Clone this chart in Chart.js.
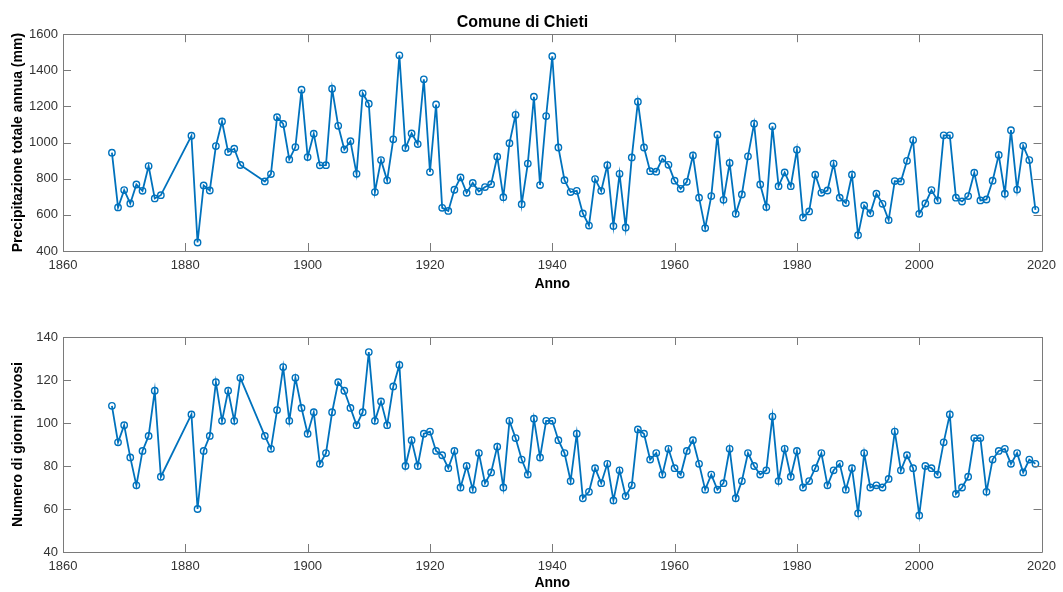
<!DOCTYPE html>
<html>
<head>
<meta charset="utf-8">
<script src="https://cdn.jsdelivr.net/npm/chart.js@4.4.0/dist/chart.umd.min.js"></script>
<style>
  body { margin: 0; background: #fff; }
  #wrap { position: relative; width: 1063px; height: 592px; }
  canvas { position: absolute; left: 0; }
</style>
</head>
<body>
<div id="wrap">
  <canvas id="rain" width="1063" height="296" style="top:0"></canvas>
  <canvas id="days" width="1063" height="296" style="top:296px"></canvas>
</div>
<script>
// years with data (gaps 1877-1880 and 1890-1892)
const years = [
  1868, 1869, 1870, 1871, 1872, 1873, 1874, 1875, 1876,
  1881, 1882, 1883, 1884, 1885, 1886, 1887, 1888, 1889,
  1893, 1894, 1895, 1896, 1897, 1898, 1899, 1900,
  1901, 1902, 1903, 1904, 1905, 1906, 1907, 1908, 1909, 1910,
  1911, 1912, 1913, 1914, 1915, 1916, 1917, 1918, 1919, 1920,
  1921, 1922, 1923, 1924, 1925, 1926, 1927, 1928, 1929, 1930,
  1931, 1932, 1933, 1934, 1935, 1936, 1937, 1938, 1939, 1940,
  1941, 1942, 1943, 1944, 1945, 1946, 1947, 1948, 1949, 1950,
  1951, 1952, 1953, 1954, 1955, 1956, 1957, 1958, 1959, 1960,
  1961, 1962, 1963, 1964, 1965, 1966, 1967, 1968, 1969, 1970,
  1971, 1972, 1973, 1974, 1975, 1976, 1977, 1978, 1979, 1980,
  1981, 1982, 1983, 1984, 1985, 1986, 1987, 1988, 1989, 1990,
  1991, 1992, 1993, 1994, 1995, 1996, 1997, 1998, 1999, 2000,
  2001, 2002, 2003, 2004, 2005, 2006, 2007, 2008, 2009, 2010,
  2011, 2012, 2013, 2014, 2015, 2016, 2017, 2018, 2019
];

// precipitazione totale annua (mm)
const rainfall = [
  944, 641, 737, 663, 768, 733, 870, 691, 709,
  1038, 447, 763, 735, 981, 1117, 948, 966, 876,
  785, 826, 1141, 1103, 907, 975, 1293, 920,
  1049, 874, 875, 1298, 1093, 962, 1008, 827, 1273, 1215,
  726, 903, 791, 1018, 1483, 970, 1051, 992, 1350, 837,
  1211, 639, 622, 739, 807, 722, 777, 730, 754, 770,
  922, 698, 997, 1154, 659, 884, 1254, 765, 1147, 1478,
  973, 792, 726, 733, 608, 541, 798, 733, 875, 538,
  827, 530, 918, 1226, 973, 842, 839, 911, 877, 789,
  744, 783, 929, 695, 527, 704, 1044, 683, 887, 606,
  713, 924, 1105, 768, 643, 1090, 759, 835, 759, 960,
  586, 619, 822, 722, 735, 884, 695, 665, 822, 488,
  652, 609, 717, 661, 571, 787, 785, 899, 1014, 606,
  663, 737, 680, 1040, 1040, 695, 674, 704, 833, 680,
  685, 789, 932, 717, 1069, 740, 982, 903, 628
];

// numero di giorni piovosi
const rainyDays = [
  108, 91, 99, 84, 71, 87, 94, 115, 75,
  104, 60, 87, 94, 119, 101, 115, 101, 121,
  94, 88, 106, 126, 101, 121, 107, 95,
  105, 81, 86, 105, 119, 115, 107, 99, 105, 133,
  101, 110, 99, 117, 127, 80, 92, 80, 95, 96,
  87, 85, 79, 87, 70, 80, 69, 86, 72, 77,
  89, 70, 101, 93, 83, 76, 102, 84, 101, 101,
  92, 86, 73, 95, 65, 68, 79, 72, 81, 64,
  78, 66, 71, 97, 95, 83, 86, 76, 88, 79,
  76, 87, 92, 81, 69, 76, 69, 72, 88, 65,
  73, 86, 80, 76, 78, 103, 73, 88, 75, 87,
  70, 73, 79, 86, 71, 78, 81, 69, 79, 58,
  86, 70, 71, 70, 74, 96, 78, 85, 79, 57,
  80, 79, 76, 91, 104, 67, 70, 75, 93, 93,
  68, 83, 87, 88, 81, 86, 77, 83, 81
];

const yearTicks = [1860, 1880, 1900, 1920, 1940, 1960, 1980, 2000, 2020];
const rainTicks = [400, 600, 800, 1000, 1200, 1400, 1600];
const dayTicks = [40, 60, 80, 100, 120, 140];

const blue = '#0072BD';
const textColor = '#333333';
const boxColor = '#7a7a7a';
const fontFamily = '"Liberation Sans", Arial, Helvetica, sans-serif';

// matlab-like box with inward ticks on all four sides
const boxPlugin = {
  id: 'matlabBox',
  afterDraw(chart) {
    const { ctx, chartArea: a, scales } = chart;
    const len = 8;
    ctx.save();
    ctx.strokeStyle = boxColor;
    ctx.lineWidth = 1;
    ctx.beginPath();
    ctx.rect(Math.round(a.left) + 0.5, Math.round(a.top) + 0.5,
      Math.round(a.right - a.left), Math.round(a.bottom - a.top));
    scales.x.ticks.forEach(t => {
      const px = Math.round(scales.x.getPixelForValue(t.value)) + 0.5;
      ctx.moveTo(px, a.bottom); ctx.lineTo(px, a.bottom - len);
      ctx.moveTo(px, a.top); ctx.lineTo(px, a.top + len);
    });
    scales.y.ticks.forEach(t => {
      const py = Math.round(scales.y.getPixelForValue(t.value)) + 0.5;
      ctx.moveTo(a.left, py); ctx.lineTo(a.left + len, py);
      ctx.moveTo(a.right, py); ctx.lineTo(a.right - len, py);
    });
    ctx.stroke();
    ctx.restore();
  }
};

function makeChart(id, values, yTicks, yLabel, opts) {
  const points = years.map((y, i) => ({ x: y, y: values[i] }));
  return new Chart(document.getElementById(id), {
    type: 'line',
    data: {
      datasets: [{
        data: points,
        borderColor: blue,
        borderWidth: 1.8,
        pointStyle: 'circle',
        pointRadius: 3.2,
        pointBorderWidth: 1.4,
        pointBorderColor: blue,
        pointBackgroundColor: 'rgba(255,255,255,0)',
        tension: 0
      }]
    },
    options: {
      responsive: false,
      animation: false,
      layout: { padding: { top: opts.padTop, right: 18, left: 0, bottom: 0 } },
      plugins: {
        legend: { display: false },
        tooltip: { enabled: false },
        title: {
          display: !!opts.title,
          text: opts.title || '',
          color: '#000',
          font: { family: fontFamily, size: 16, weight: 'bold' },
          padding: { top: 13, bottom: 2 }
        }
      },
      scales: {
        x: {
          type: 'linear',
          min: yearTicks[0],
          max: yearTicks[yearTicks.length - 1],
          afterBuildTicks: s => { s.ticks = yearTicks.map(v => ({ value: v })); },
          afterFit: s => { s.height = opts.xHeight; },
          grid: { display: false, drawTicks: false },
          border: { display: false },
          ticks: {
            padding: 7, color: textColor,
            font: { family: fontFamily, size: 13 },
            callback: v => String(v)
          },
          title: {
            display: true,
            text: 'Anno',
            color: '#000',
            font: { family: fontFamily, size: 14, weight: 'bold' },
            padding: { top: 0, bottom: opts.xTitlePad }
          }
        },
        y: {
          type: 'linear',
          min: yTicks[0],
          max: yTicks[yTicks.length - 1],
          afterBuildTicks: s => { s.ticks = yTicks.map(v => ({ value: v })); },
          afterFit: s => { s.width = 63; },
          grid: { display: false, drawTicks: false },
          border: { display: false },
          ticks: {
            padding: 5, color: textColor,
            font: { family: fontFamily, size: 13 },
            callback: v => String(v)
          },
          title: {
            display: true,
            text: yLabel,
            color: '#000',
            font: { family: fontFamily, size: 14, weight: 'bold' },
            padding: { top: 9.5, bottom: 0 }
          }
        }
      }
    },
    plugins: [boxPlugin]
  });
}

makeChart('rain', rainfall, rainTicks, 'Precipitazione totale annua (mm)',
  { title: 'Comune di Chieti', padTop: 0, xHeight: 45, xTitlePad: 3.5 });
makeChart('days', rainyDays, dayTicks, 'Numero di giorni piovosi',
  { padTop: 41, xHeight: 40, xTitlePad: 0 });
</script>
</body>
</html>
